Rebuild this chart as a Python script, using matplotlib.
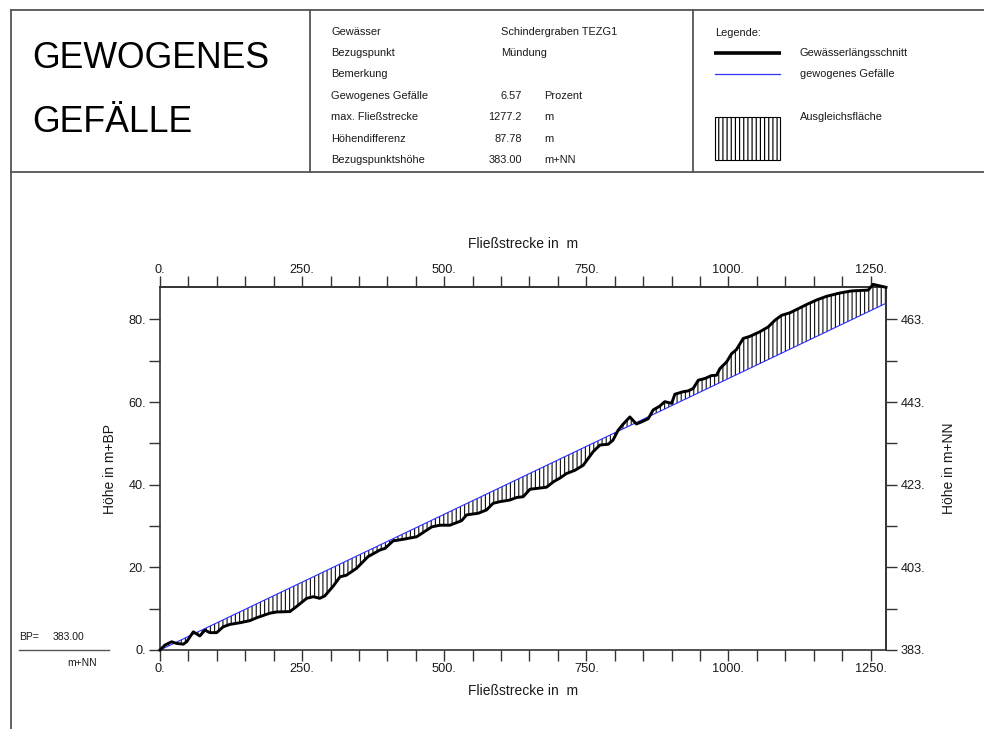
import matplotlib
matplotlib.use("Agg")
import matplotlib.pyplot as plt
from matplotlib.lines import Line2D
from matplotlib.patches import Rectangle

plt.rcParams['font.family'] = ['Liberation Sans', 'DejaVu Sans']
plt.rcParams['hatch.linewidth'] = 0.85

# --- data ---------------------------------------------------------------
dist = [0, 8.8, 20.5, 29, 41, 47, 58.6, 70, 79, 88, 99.7, 111, 123, 140.7,
        158, 170, 193, 205, 228.6, 240, 258, 269.7, 281, 290, 305, 316.6, 328,
        346, 366, 387, 396, 410, 428, 451.5, 478, 492.5, 510, 530.6, 539.4,
        560, 574.5, 586, 598, 615.6, 627, 639, 650.8, 662.6, 680, 692, 703.5,
        715, 730, 744.5, 762, 774, 788.5, 797, 806, 815, 826.6, 838, 847, 859,
        867.6, 879, 888, 900, 905.8, 920, 929, 938, 947, 958.6, 970, 979, 985,
        996.7, 1005.5, 1014, 1026, 1037.7, 1055, 1070, 1081.7, 1093.5, 1108,
        1122.7, 1137.4, 1155, 1172.6, 1196, 1216.5, 1245.8, 1254.6, 1260.5,
        1277.2]
elev = [0, 1.2, 2.0, 1.6, 1.4, 2.0, 4.4, 3.4, 4.8, 4.2, 4.2, 5.6, 6.2, 6.6,
        7.1, 7.8, 8.9, 9.2, 9.3, 10.5, 12.5, 12.9, 12.5, 13.1, 15.5, 17.7,
        18.1, 19.8, 22.6, 24.2, 24.6, 26.4, 26.8, 27.4, 29.8, 30.2, 30.2, 31.3,
        32.7, 33.1, 33.9, 35.5, 35.9, 36.3, 36.9, 37.1, 38.9, 39.1, 39.4, 40.7,
        41.6, 42.7, 43.5, 44.7, 48.0, 49.6, 49.8, 50.8, 53.2, 54.7, 56.4, 54.7,
        55.2, 56.0, 58.1, 59.0, 60.1, 59.7, 61.9, 62.5, 62.7, 63.3, 65.3, 65.7,
        66.4, 66.5, 68.1, 69.7, 71.7, 72.7, 75.4, 75.9, 77.0, 78.2, 79.8, 81.0,
        81.6, 82.6, 83.6, 84.7, 85.6, 86.4, 86.9, 87.1, 88.5, 88.3, 87.78]

slope_pct = 6.57          # gewogenes Gefälle in Prozent
max_length = 1277.2       # max. Fließstrecke in m
height_diff = 87.78       # Höhendifferenz in m
ref_height = 383.00       # Bezugspunktshöhe in m+NN

info_labels = ["Gewässer", "Bezugspunkt", "Bemerkung", "Gewogenes Gefälle",
               "max. Fließstrecke", "Höhendifferenz", "Bezugspunktshöhe"]
info_text = ["Schindergraben TEZG1", "Mündung", ""]
info_values = ["6.57", "1277.2", "87.78", "383.00"]
info_units = ["Prozent", "m", "m", "m+NN"]

x_ticks = list(range(0, 1277, 50))
x_labelled = [0, 250, 500, 750, 1000, 1250]
y_ticks = list(range(0, 81, 10))
y_labelled = [0, 20, 40, 60, 80]

W, H = 984, 729
TXT = '#1a1a1a'
FRAME = '#555555'
AXC = '#333333'

fig = plt.figure(figsize=(W / 100, H / 100), dpi=100)


def fx(px):
    return px / W


def fy(py):
    return 1 - py / H


def hline(x0, x1, y, **kw):
    fig.add_artist(Line2D([fx(x0), fx(x1)], [fy(y), fy(y)],
                          transform=fig.transFigure, **kw))


def vline(x, y0, y1, **kw):
    fig.add_artist(Line2D([fx(x), fx(x)], [fy(y0), fy(y1)],
                          transform=fig.transFigure, **kw))


# --- header frame -------------------------------------------------------
frame_kw = dict(color=FRAME, lw=1.3)
hline(11, W, 10, **frame_kw)
hline(11, W, 172, **frame_kw)
vline(11, 10, H, **frame_kw)
vline(310, 10, 172, **frame_kw)
vline(693, 10, 172, **frame_kw)

fig.text(fx(32), fy(68), "GEWOGENES", fontsize=25.7, color='black',
         va='baseline')
fig.text(fx(32), fy(131.5), "GEFÄLLE", fontsize=25.7, color='black',
         va='baseline')

row_y = [32, 53, 74, 96, 117.5, 138.5, 160]
for i, lab in enumerate(info_labels):
    fig.text(fx(331), fy(row_y[i]), lab, fontsize=7.9, color=TXT, va='center')
for i, t in enumerate(info_text):
    fig.text(fx(501), fy(row_y[i]), t, fontsize=7.9, color=TXT, va='center')
for i, (v, u) in enumerate(zip(info_values, info_units)):
    fig.text(fx(522), fy(row_y[3 + i]), v, fontsize=7.9, color=TXT,
             va='center', ha='right')
    fig.text(fx(544), fy(row_y[3 + i]), u, fontsize=7.9, color=TXT, va='center')

# legend block
fig.text(fx(715), fy(33), "Legende:", fontsize=7.9, color=TXT, va='center')
hline(714, 781, 53, color='black', lw=2.6, solid_capstyle='butt')
fig.text(fx(800), fy(53), "Gewässerlängsschnitt", fontsize=7.9, color=TXT,
         va='center')
hline(715, 780, 74, color='#3333ff', lw=0.9)
fig.text(fx(800), fy(74), "gewogenes Gefälle", fontsize=7.9, color=TXT,
         va='center')
fig.add_artist(Rectangle((fx(715), fy(159.5)), fx(780) - fx(715),
                         fy(117) - fy(159.5), transform=fig.transFigure,
                         facecolor='none', edgecolor='black', lw=0.8,
                         hatch='||||'))
fig.text(fx(800), fy(117), "Ausgleichsfläche", fontsize=7.9, color=TXT,
         va='center')

# reference point note
fig.text(fx(19), fy(637), "BP=", fontsize=7.5, color=TXT, va='center')
fig.text(fx(53), fy(637), f"{ref_height:.2f}", fontsize=7.5, color=TXT,
         va='center')
hline(19, 109, 650, color=FRAME, lw=1.0)
fig.text(fx(97), fy(662.5), "m+NN", fontsize=7.5, color=TXT, va='center',
         ha='right')

# --- main chart ---------------------------------------------------------
ax = fig.add_axes([fx(160), fy(650), fx(886) - fx(160), fy(287.3) - fy(650)])
ax.set_xlim(0, max_length)
ax.set_ylim(0, height_diff)

weighted = [slope_pct / 100 * d for d in dist]
ax.fill_between(dist, elev, weighted, facecolor='none', edgecolor='#1a1a1a',
                linewidth=0, hatch='||||', zorder=1)
ax.plot([0, max_length], [0, slope_pct / 100 * max_length], color='#2b2bff',
        lw=0.8, zorder=2)
ax.plot(dist, elev, color='black', lw=2.1, zorder=3, clip_on=False,
        solid_joinstyle='round')

for side in ('left', 'bottom', 'right', 'top'):
    ax.spines[side].set_color(AXC)
    ax.spines[side].set_linewidth(1.2)

tick_kw = dict(direction='out', length=8, width=1.0, color=AXC,
               labelsize=9.2, labelcolor=TXT)


def xfmt(vals):
    return [f"{v}." if v in x_labelled else "" for v in vals]


ax.set_xticks(x_ticks)
ax.set_xticklabels(xfmt(x_ticks))
ax.set_yticks(y_ticks)
ax.set_yticklabels([f"{v}." if v in y_labelled else "" for v in y_ticks])
ax.tick_params(axis='x', pad=1, **tick_kw)
ax.tick_params(axis='y', pad=2, **tick_kw)
ax.set_xlabel("Fließstrecke in  m", fontsize=10, color=TXT, labelpad=7)
ax.set_ylabel("Höhe in m+BP", fontsize=10, color=TXT, labelpad=8)

top = ax.secondary_xaxis('top')
top.set_xticks(x_ticks)
top.set_xticklabels(xfmt(x_ticks))
top.tick_params(pad=0, **tick_kw)
top.set_xlabel("Fließstrecke in  m", fontsize=10, color=TXT, labelpad=12)
top.spines['top'].set_color(AXC)
top.spines['top'].set_linewidth(1.2)

right = ax.secondary_yaxis('right', functions=(lambda y: y + ref_height,
                                               lambda y: y - ref_height))
r_ticks = [ref_height + v for v in y_ticks]
right.set_yticks(r_ticks)
right.set_yticklabels([f"{v + ref_height:.0f}." if v in y_labelled else ""
                       for v in y_ticks])
right.tick_params(pad=2.5, **tick_kw)
right.set_ylabel("Höhe in m+NN", fontsize=10, color=TXT, labelpad=12)
right.spines['right'].set_color(AXC)
right.spines['right'].set_linewidth(1.2)

fig.savefig("out.png", dpi=100)
